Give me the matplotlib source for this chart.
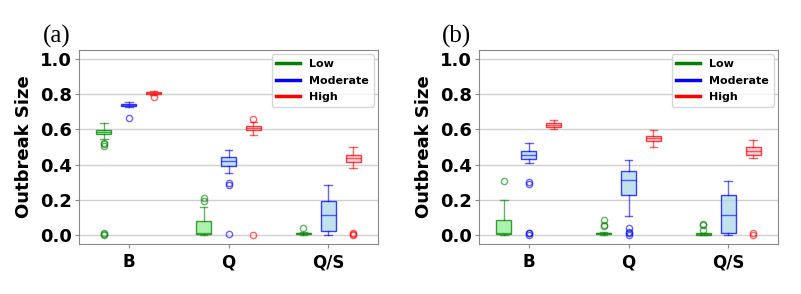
import numpy as np
import matplotlib
matplotlib.use("Agg")
import matplotlib.pyplot as plt
from matplotlib.lines import Line2D

# ---- data ----
GROUPS = ["B", "Q", "Q/S"]
LEVELS = ["Low", "Moderate", "High"]

# each entry: (whislo, q1, med, q3, whishi, fliers) per group, order B, Q, Q/S
A_low = [(0.545, 0.575, 0.585, 0.595, 0.635, [0.505, 0.515, 0.525, 0.0, 0.005, 0.01]),
         (0.0, 0.005, 0.015, 0.08, 0.16, [0.195, 0.21]),
         (0.0, 0.005, 0.01, 0.015, 0.02, [0.04])]
A_mod = [(0.725, 0.735, 0.74, 0.745, 0.755, [0.665]),
         (0.355, 0.395, 0.42, 0.445, 0.485, [0.285, 0.295, 0.005]),
         (0.0, 0.025, 0.115, 0.195, 0.285, [])]
A_high = [(0.795, 0.80, 0.805, 0.81, 0.815, [0.785]),
          (0.57, 0.597, 0.61, 0.62, 0.64, [0.66, 0.0]),
          (0.38, 0.415, 0.435, 0.455, 0.50, [0.0, 0.005, 0.01])]

B_low = [(0.0, 0.005, 0.01, 0.085, 0.20, [0.31]),
         (0.0, 0.005, 0.01, 0.015, 0.02, [0.05, 0.06, 0.085]),
         (0.0, 0.003, 0.007, 0.01, 0.015, [0.03, 0.055, 0.065])]
B_mod = [(0.41, 0.43, 0.455, 0.475, 0.52, [0.29, 0.30, 0.0, 0.01, 0.015]),
         (0.11, 0.23, 0.315, 0.365, 0.425, [0.0, 0.01, 0.02, 0.04]),
         (0.0, 0.01, 0.115, 0.23, 0.305, [])]
B_high = [(0.60, 0.615, 0.625, 0.635, 0.655, []),
          (0.50, 0.535, 0.55, 0.565, 0.595, []),
          (0.435, 0.455, 0.475, 0.50, 0.54, [0.0, 0.01])]

EDGE = ["green", "blue", "red"]
FACE = ["lightgreen", "lightblue", "pink"]
OFFS = [-0.25, 0.0, 0.25]

plt.rcParams.update({"font.family": "DejaVu Sans", "font.weight": "bold"})


def stats(rows):
    return [dict(whislo=r[0], q1=r[1], med=r[2], q3=r[3], whishi=r[4], fliers=r[5])
            for r in rows]


def panel(ax, series, tag):
    x = np.arange(1, len(GROUPS) + 1)
    for i, rows in enumerate(series):
        c = EDGE[i]
        ax.bxp(stats(rows), positions=x + OFFS[i], widths=0.15, patch_artist=True,
               boxprops=dict(facecolor=FACE[i], edgecolor=c, lw=1.0, alpha=0.75),
               medianprops=dict(color=c, lw=1.0, alpha=0.6),
               whiskerprops=dict(color=c, lw=1.0, alpha=0.6),
               capprops=dict(color=c, lw=1.0, alpha=0.6),
               flierprops=dict(marker="o", mfc="none", mec=c, ms=4.5, alpha=0.6),
               manage_ticks=False)
    ax.set_xticks(x)
    ax.set_xticklabels(GROUPS, fontsize=12, fontweight="bold")
    ax.set_xlim(0.5, 3.5)
    ax.set_ylim(-0.05, 1.05)
    ax.set_yticks([0, 0.2, 0.4, 0.6, 0.8, 1.0])
    ax.set_yticklabels([f"{v:.1f}" for v in ax.get_yticks()], fontsize=13,
                       fontweight="bold")
    ax.set_ylabel("Outbreak Size", fontsize=13, fontweight="bold", labelpad=5)
    ax.yaxis.grid(True, color="#d0d0d0", lw=1.0)
    ax.set_axisbelow(True)
    for sp in ax.spines.values():
        sp.set_color("#888888")
    ax.tick_params(axis="y", length=3, pad=2, color="#888888")
    ax.tick_params(axis="x", length=3, color="#888888")
    hs = [Line2D([0], [0], color=EDGE[i], lw=2.5, label=LEVELS[i]) for i in range(3)]
    ax.legend(handles=hs, loc="upper right", handlelength=2.2, labelspacing=0.6,
              prop=dict(weight="bold", size=8), borderaxespad=0.4)
    ax.text(-0.075, 1.04, tag, transform=ax.transAxes, fontsize=18,
            family="Liberation Serif", fontweight="normal", ha="center", va="baseline")


fig = plt.figure(figsize=(8.01, 2.94), dpi=100)
axA = fig.add_axes([79 / 801, 1 - 244 / 294, 299 / 801, 194 / 294])
axB = fig.add_axes([479 / 801, 1 - 244 / 294, 299 / 801, 194 / 294])
panel(axA, [A_low, A_mod, A_high], "(a)")
panel(axB, [B_low, B_mod, B_high], "(b)")
fig.savefig("out.png", dpi=100)
